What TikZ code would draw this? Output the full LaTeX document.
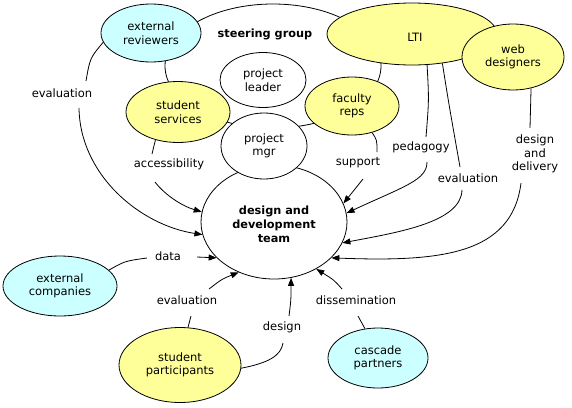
\documentclass[tikz,border=0pt]{standalone}
\usepackage{fontspec}
\setmainfont{DejaVu Sans}
\usetikzlibrary{shapes.geometric,arrows.meta}
\definecolor{cyanfill}{HTML}{CCFFFF}
\definecolor{yellowfill}{HTML}{FFFF99}
\begin{document}
\begin{tikzpicture}[x=1pt,y=1pt,
  every node/.style={font=\fontsize{11.5}{13.5}\selectfont},
  bub/.style={ellipse,draw,line width=0.8pt,inner sep=0pt,align=center},
  lbl/.style={align=center,inner sep=0pt},
  boldtxt/.style={font=\fontsize{11.3}{14}\selectfont\bfseries},
  con/.style={line width=0.8pt},
  arr/.style={con,-{Triangle[length=8pt,width=6pt]}}]
\useasboundingbox (0,0) rectangle (572,-407);
% steering group outline
\node[bub,minimum width=216pt,minimum height=124pt] (sg) at (273,-66) {};
\node[lbl,boldtxt] (sgtxt) at (265,-34) {steering group};
% bubbles
\node[bub,fill=cyanfill,minimum width=100pt,minimum height=58pt] (extrev) at (151,-33) {external\\reviewers};
\node[bub,fill=yellowfill,minimum width=170pt,minimum height=62pt] (lti) at (412,-34) {\raisebox{-3pt}[\height][\depth]{\hspace*{6pt}LTI}};
\node[bub,fill=yellowfill,minimum width=102pt,minimum height=66pt] (web) at (513,-57) {web\\designers};
\node[bub,fill=white,minimum width=86pt,minimum height=55pt] (pleader) at (263,-80) {project\\leader};
\node[bub,fill=yellowfill,minimum width=104pt,minimum height=61pt] (stserv) at (178,-112) {student\\services};
\node[bub,fill=yellowfill,minimum width=94pt,minimum height=58pt] (facrep) at (352,-106) {faculty\\reps};
\node[bub,fill=white,minimum width=146pt,minimum height=114pt,boldtxt] (ddt) at (274,-222) {\raisebox{-4pt}[\height][\depth]{\begin{tabular}{@{}c@{}}design and\\development\\team\end{tabular}}};
\node[bub,fill=white,minimum width=86pt,minimum height=66pt] (pmgr) at (264,-146) {project\\mgr};
\node[bub,fill=cyanfill,minimum width=114pt,minimum height=60pt] (extcomp) at (60,-286) {external\\companies};
\node[bub,fill=yellowfill,minimum width=122pt,minimum height=75pt] (stpart) at (180,-365) {student\\participants};
\node[bub,fill=cyanfill,minimum width=100pt,minimum height=60pt] (cascade) at (378,-358) {cascade\\partners};
% labels
\node[lbl] (evalL) at (62,-93) {evaluation};
\node[lbl] (access) at (169,-164) {accessibility};
\node[lbl] (support) at (358,-163) {support};
\node[lbl] (pedag) at (421,-147) {pedagogy};
\node[lbl] (evalR) at (468,-178) {evaluation};
\node[lbl] (dnd) at (535,-154) {design\\and\\delivery};
\node[lbl] (data) at (168,-256) {data};
\node[lbl] (evalB) at (187,-300) {evaluation};
\node[lbl] (design) at (282,-327) {design};
\node[lbl] (dissem) at (356,-300) {dissemination};
% connectors
\draw[con] (extrev.191) .. controls (90,-58) .. ([shift={(24,12)}]evalL.center);
\draw[arr] ([shift={(17,-15)}]evalL.center) .. controls (80,-175) and (140,-225) .. (ddt.190);
\draw[con] (stserv.231) -- ([shift={(-17,10)}]access.center);
\draw[arr] ([shift={(-14,-18)}]access.center) .. controls (165,-195) and (182,-206) .. (ddt.172);
\draw[con] (extcomp.18) .. controls (125,-261) .. ([shift={(-21,-2)}]data.center);
\draw[arr] ([shift={(29,-1)}]data.center) -- (ddt.212);
\draw[con] (stpart.78) -- ([shift={(4,-16)}]evalB.center);
\draw[arr] ([shift={(22,11)}]evalB.center) .. controls (222,-279) .. (ddt.235);
\draw[con] (stpart.357) .. controls (268,-363) and (281,-356) .. ([shift={(1,-16)}]design.center);
\draw[arr] ([shift={(7,11)}]design.center) .. controls (291,-300) .. (ddt.287);
\draw[con] (cascade.114) -- ([shift={(2,-16)}]dissem.center);
\draw[arr] ([shift={(-14,11)}]dissem.center) .. controls (334,-280) .. (ddt.312);
\draw[con] (facrep.307) .. controls (377,-140) .. ([shift={(19,11)}]support.center);
\draw[arr] ([shift={(5,-16)}]support.center) -- (ddt.15);
\draw[con] (lti.296) .. controls (429,-100) .. ([shift={(5,10)}]pedag.center);
\draw[arr] ([shift={(6,-15)}]pedag.center) .. controls (427,-180) and (405,-186) .. (ddt.7);
\draw[con] (lti.316) .. controls (449,-105) .. ([shift={(-8,11)}]evalR.center);
\draw[arr] ([shift={(-6,-12)}]evalR.center) .. controls (461,-222) and (400,-232) .. (ddt.343);
\draw[con] (web.300) -- ([shift={(-5,26)}]dnd.center);
\draw[arr] ([shift={(-14,-29)}]dnd.center) .. controls (512,-255) and (440,-262) .. (ddt.328);
\end{tikzpicture}
\end{document}
